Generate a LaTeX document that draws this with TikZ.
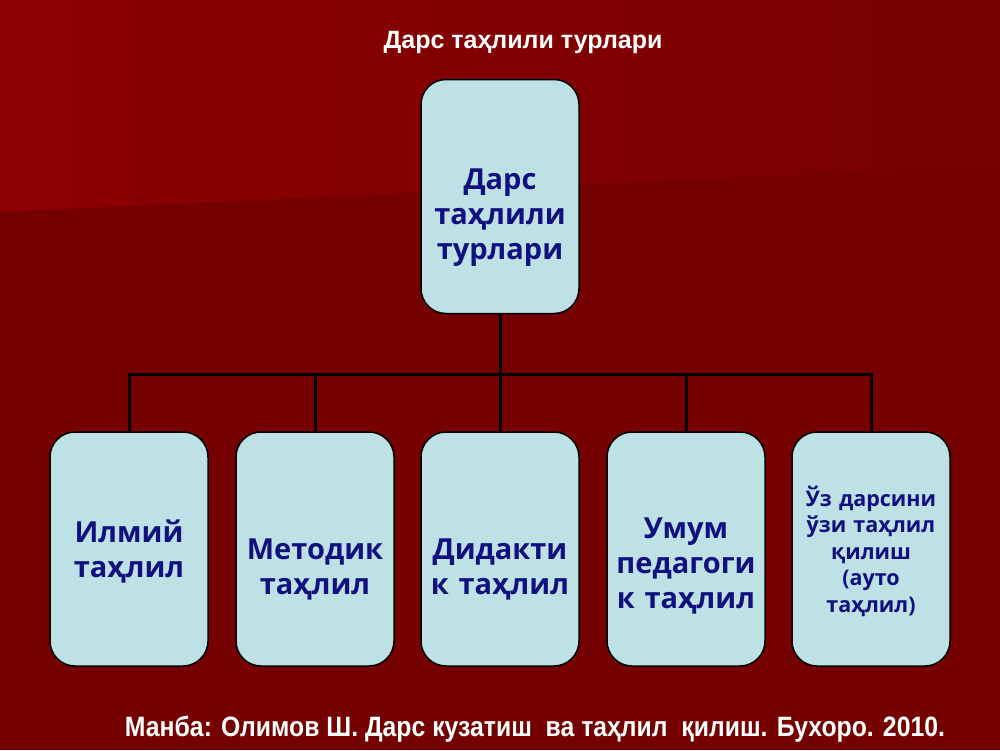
\documentclass[tikz,border=0pt]{standalone}
\usepackage{fontspec}
\setmainfont{Open Sans}
\newfontfamily\arialb{Liberation Sans}
\definecolor{bgdark}{RGB}{116,0,0}
\definecolor{bgtopL}{RGB}{140,0,2}
\definecolor{bgtopR}{RGB}{120,0,0}
\definecolor{boxfill}{RGB}{190,225,230}
\definecolor{boxtext}{RGB}{16,16,128}
\tikzset{
  card/.style={draw=black, line width=1.5pt, fill=boxfill, rounded corners=25pt,
    minimum width=158pt, minimum height=234pt, inner sep=0pt},
  cardtext/.style={text width=156pt, align=center, inner sep=0pt, text=boxtext,
    font=\bfseries\fontsize{29}{35}\selectfont},
  smalltext/.style={cardtext, font=\bfseries\fontsize{21.5}{26.5}\selectfont},
  link/.style={draw=black, line width=3pt}
}
\begin{document}
\begin{tikzpicture}[x=1pt,y=-1pt]
\useasboundingbox (0,0) rectangle (1000,750);
\fill[bgdark] (0,0) rectangle (1000,750);
\shade[left color=bgtopL, right color=bgtopR] (0,0) -- (1000,0) -- (1000,165) -- (0,212) -- cycle;
\node[text=white, font=\arialb\bfseries\fontsize{25}{30}\selectfont] (title) at (523,42) {Дарс таҳлили турлари};
\node[card] (root) at (500,196.5) {};
\node[card] (b1) at (129,549) {};
\node[card] (b2) at (315,549) {};
\node[card] (b3) at (500,549) {};
\node[card] (b4) at (686,549) {};
\node[card] (b5) at (871,549) {};
\node[cardtext] (root-t) at ([yshift=-21pt]root.center) {Дарс\\ таҳлили\\ турлари};
\node[cardtext] (b1-t) at ([yshift=-3pt]b1.center) {Илмий\\ таҳлил};
\node[cardtext] (b2-t) at ([yshift=-20pt]b2.center) {Методик\\ таҳлил};
\node[cardtext] (b3-t) at ([yshift=-20pt]b3.center) {Дидакти\\ к таҳлил};
\node[cardtext] (b4-t) at ([yshift=-17pt]b4.center) {Умум\\ педагоги\\ к таҳлил};
\node[smalltext] (b5-t) at ([yshift=-2pt]b5.center) {Ўз дарсини\\ ўзи таҳлил\\ қилиш\\ (ауто\\ таҳлил)};
\coordinate (hub) at (500,374);
\draw[link] (root.south) -- (hub);
\draw[link] (b1.north) |- (hub) -| (b5.north);
\draw[link] (hub) -- (b3.north);
\draw[link] (b2.north) -- (b2.north |- hub);
\draw[link] (b4.north) -- (b4.north |- hub);
\node[text=white, font=\arialb\bfseries\fontsize{28}{32}\selectfont, xscale=0.885] (src) at (535,729) {Манба: Олимов Ш. Дарс кузатиш\ \ ва таҳлил\ \ қилиш. Бухоро. 2010.};
\end{tikzpicture}
\end{document}
